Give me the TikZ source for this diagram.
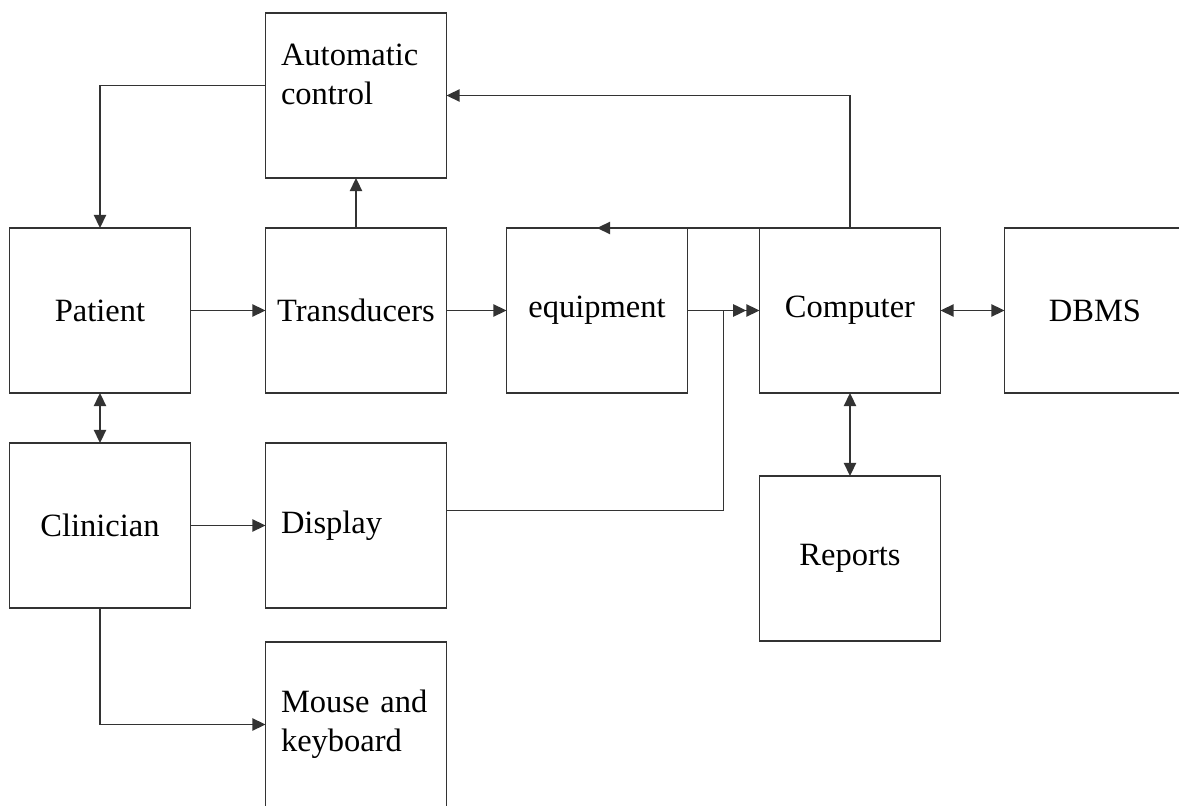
\documentclass[tikz,border=0pt]{standalone}
\usepackage{fontspec}
\setmainfont{Liberation Serif}
\usetikzlibrary{arrows.meta, positioning, calc}
\definecolor{LineGray}{HTML}{333333}

\begin{document}
\begin{tikzpicture}[
    >={Triangle[length=7.5pt, width=7pt]},
    box/.style={rectangle, draw=LineGray, line width=1pt, outer sep=0pt,
                minimum width=3.62cm, minimum height=3.3cm,
                font=\fontsize{18.5}{22}\selectfont},
    leftbox/.style={box, text width=3cm, inner xsep=0.31cm, align=left},
    link/.style={draw=LineGray, line width=1pt}
]
    \useasboundingbox (0,0) rectangle (23.58,16.1);

    % Middle row
    \node[box] (patient) at (2.0,9.89) {Patient};
    \node[box, right=1.5cm of patient] (trans) {Transducers};
    \node[box, right=1.2cm of trans] (equip) {equipment};
    \node[box, right=1.44cm of equip] (comp) {Computer};
    \node[box, right=1.28cm of comp] (dbms) {DBMS};

    % Control on top
    \node[leftbox, above=1cm of trans, text depth=1.62cm] (auto) {Automatic\\control};

    % Lower rows
    \node[box, below=1cm of patient] (clin) {Clinician};
    \node[leftbox, below=1cm of trans] (disp) {Display};
    \node[leftbox, below=0.68cm of disp] (mouse) {Mouse and\\keyboard};
    \node[box, below=1.66cm of comp] (reports) {Reports};

    % Feedback loop
    \draw[link, ->] ([yshift=0.2cm]auto.west) -| (patient.north);
    \draw[link, ->] (trans) -- (auto);
    \draw[link, ->] (comp.north) |- (auto.east);
    \draw[link, ->] (comp.north west) -- (equip.north);

    % Signal chain
    \draw[link, ->] (patient) -- (trans);
    \draw[link, ->] (trans) -- (equip);
    \draw[link, ->>] (equip) -- (comp);
    \coordinate (join) at ($(equip.east)!0.5!(comp.west)$);
    \draw[link] ([yshift=0.3cm]disp.east) -| (join);
    \draw[link, <->] (comp) -- (dbms);
    \draw[link, <->] (comp) -- (reports);

    % Clinician side
    \draw[link, <->] (patient) -- (clin);
    \draw[link, ->] (clin) -- (disp);
    \draw[link, ->] (clin.south) |- (mouse.west);
\end{tikzpicture}
\end{document}
